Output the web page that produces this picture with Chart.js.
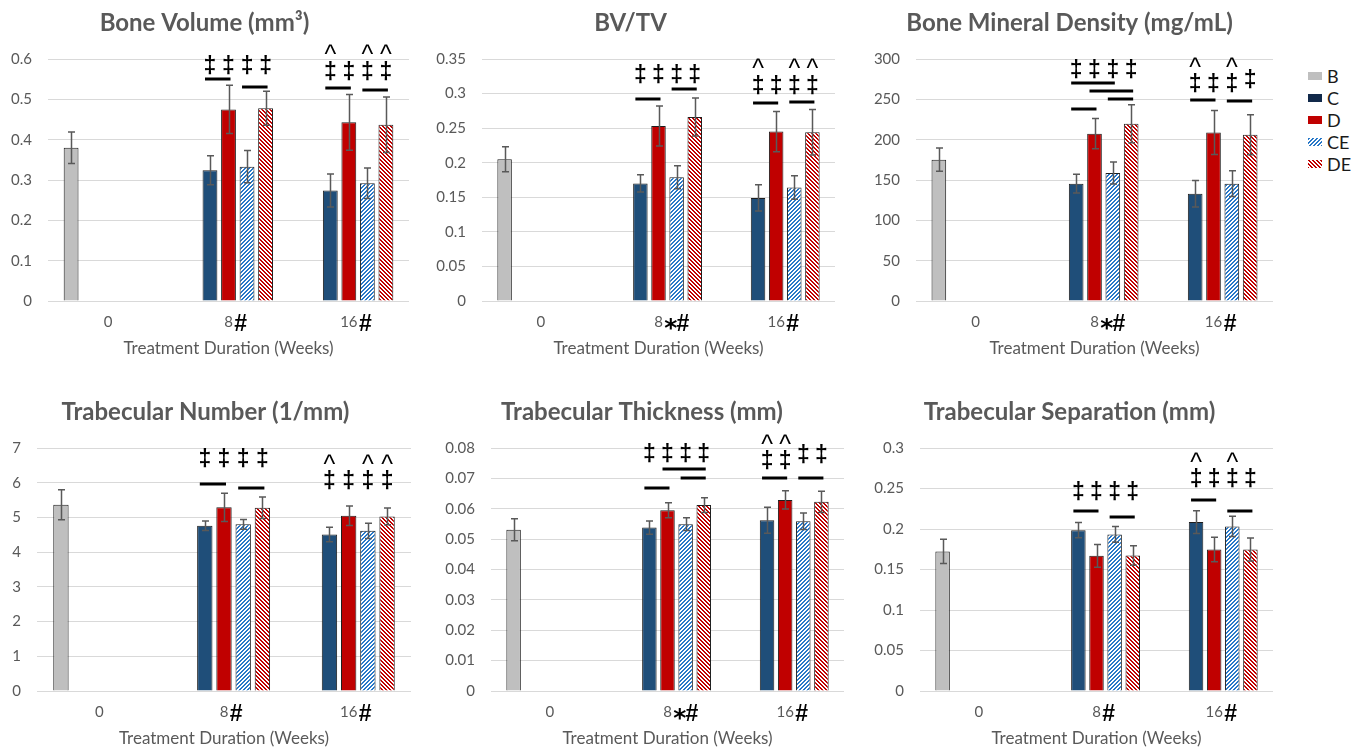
<!DOCTYPE html>
<html><head><meta charset="utf-8">
<script src="https://cdn.jsdelivr.net/npm/chart.js@4.4.1/dist/chart.umd.min.js"></script>
<style>
html,body{margin:0;padding:0;background:#fff;width:1369px;height:749px;overflow:hidden;position:relative}
.lg{position:absolute;left:1308px;height:22px;line-height:22px;font-family:Lato,sans-serif;font-size:18px;color:#1a1a1a;white-space:nowrap}
.lg canvas{position:absolute;left:0;top:7px}
.lg span{position:absolute;left:19px;top:0}
</style>
</head><body>
<script>
const FONT = 'Lato';
const categories = ['0', '8', '16'];
const seriesNames = ['B', 'C', 'D', 'CE', 'DE'];
const ALL = ['C', 'D', 'CE', 'DE'];

// ---- Bone Volume (mm³)
const bvB = [0.380, null, null],  bvB_err = [0.039, null, null];
const bvC = [null, 0.324, 0.274], bvC_err = [null, 0.036, 0.041];
const bvD = [null, 0.475, 0.443], bvD_err = [null, 0.060, 0.069];
const bvCE = [null, 0.333, 0.292], bvCE_err = [null, 0.040, 0.038];
const bvDE = [null, 0.478, 0.437], bvDE_err = [null, 0.042, 0.069];
const bvSuffix = ['', '#', '#'];
const bvDaggers = [[1, ALL, 0.583], [2, ALL, 0.566]];
const bvCarets = [[2, ['C', 'CE', 'DE'], 0.621]];
const bvLines = [[1, 'C', 'D', 0.550], [1, 'CE', 'DE', 0.531], [2, 'C', 'D', 0.527], [2, 'CE', 'DE', 0.524]];

// ---- BV/TV
const tvB = [0.205, null, null],  tvB_err = [0.018, null, null];
const tvC = [null, 0.170, 0.149], tvC_err = [null, 0.0125, 0.019];
const tvD = [null, 0.253, 0.245], tvD_err = [null, 0.029, 0.029];
const tvCE = [null, 0.179, 0.164], tvCE_err = [null, 0.0166, 0.017];
const tvDE = [null, 0.266, 0.244], tvDE_err = [null, 0.0275, 0.033];
const tvSuffix = ['', '*#', '#'];
const tvDaggers = [[1, ALL, 0.326], [2, ALL, 0.311]];
const tvCarets = [[2, ['C', 'CE', 'DE'], 0.343]];
const tvLines = [[1, 'C', 'D', 0.2926], [1, 'CE', 'DE', 0.3066], [2, 'C', 'D', 0.2868], [2, 'CE', 'DE', 0.2873]];

// ---- Bone Mineral Density (mg/mL)
const bmdB = [175.2, null, null],  bmdB_err = [14.5, null, null];
const bmdC = [null, 145.5, 133.0], bmdC_err = [null, 11.5, 16.5];
const bmdD = [null, 207.4, 209.0], bmdD_err = [null, 18.8, 27.3];
const bmdCE = [null, 158.7, 145.5], bmdCE_err = [null, 13.6, 16.0];
const bmdDE = [null, 219.8, 206.2], bmdDE_err = [null, 23.5, 24.8];
const bmdSuffix = ['', '*#', '#'];
const bmdDaggers = [[1, ALL, 286], [2, ['C', 'D', 'CE'], 269], [2, ['DE'], 274]];
const bmdCarets = [[2, ['C', 'CE'], 295]];
const bmdLines = [[1, 'C', 'CE', 269.8], [1, 'D', 'DE', 260.7], [1, 'CE', 'DE', 250.8], [1, 'C', 'D', 237.6], [2, 'C', 'D', 249], [2, 'CE', 'DE', 247.5]];

// ---- Trabecular Number (1/mm)
const tnB = [5.365, null, null], tnB_err = [0.43, null, null];
const tnC = [null, 4.76, 4.51],  tnC_err = [null, 0.14, 0.21];
const tnD = [null, 5.29, 5.05],  tnD_err = [null, 0.41, 0.28];
const tnCE = [null, 4.80, 4.615], tnCE_err = [null, 0.14, 0.22];
const tnDE = [null, 5.28, 5.03], tnDE_err = [null, 0.31, 0.24];
const tnSuffix = ['', '#', '#'];
const tnDaggers = [[1, ALL, 6.66], [2, ALL, 6.04]];
const tnCarets = [[2, ['C', 'CE', 'DE'], 6.66]];
const tnLines = [[1, 'C', 'D', 5.97], [1, 'CE', 'DE', 5.846]];

// ---- Trabecular Thickness (mm)
const ttB = [0.0531, null, null],   ttB_err = [0.0036, null, null];
const ttC = [null, 0.0538, 0.0562], ttC_err = [null, 0.0022, 0.0043];
const ttD = [null, 0.0595, 0.0629], ttD_err = [null, 0.0025, 0.0030];
const ttCE = [null, 0.0549, 0.0559], ttCE_err = [null, 0.0021, 0.0027];
const ttDE = [null, 0.0612, 0.0623], ttDE_err = [null, 0.0024, 0.0035];
const ttSuffix = ['', '*#', '#'];
const ttDaggers = [[1, ALL, 0.0780], [2, ['C', 'D'], 0.0756], [2, ['CE', 'DE'], 0.0775]];
const ttCarets = [[2, ['C', 'D'], 0.0825]];
const ttLines = [[1, 'D', 'DE', 0.0731], [1, 'CE', 'DE', 0.0702], [1, 'C', 'D', 0.0667], [2, 'C', 'D', 0.0701], [2, 'CE', 'DE', 0.0701]];

// ---- Trabecular Separation (mm)
const tsB = [0.1723, null, null],   tsB_err = [0.015, null, null];
const tsC = [null, 0.1986, 0.2085], tsC_err = [null, 0.0093, 0.014];
const tsD = [null, 0.1669, 0.1747], tsD_err = [null, 0.014, 0.015];
const tsCE = [null, 0.1933, 0.2032], tsCE_err = [null, 0.0097, 0.0124];
const tsDE = [null, 0.1673, 0.1747], tsDE_err = [null, 0.012, 0.0142];
const tsSuffix = ['', '#', '#'];
const tsDaggers = [[1, ALL, 0.245], [2, ALL, 0.2617]];
const tsCarets = [[2, ['C', 'CE'], 0.2876]];
const tsLines = [[1, 'C', 'D', 0.2217], [1, 'CE', 'DE', 0.2143], [2, 'C', 'D', 0.2353], [2, 'CE', 'DE', 0.2217]];

// ---------- styling ----------
function stripe(color, dir) {
  const c = document.createElement('canvas'); c.width = 4; c.height = 4;
  const x = c.getContext('2d');
  x.fillStyle = '#ffffff'; x.fillRect(0, 0, 4, 4);
  x.fillStyle = color;
  for (let i = 0; i < 4; i++) for (let j = 0; j < 4; j++) {
    const k = dir > 0 ? (i + j) % 4 : ((i - j) % 4 + 4) % 4;
    if (k < 2) x.fillRect(i, j, 1, 1);
  }
  return document.createElement('canvas').getContext('2d').createPattern(c, 'repeat');
}
const fills = ['#bfbfbf', '#1f4e79', '#c00000', stripe('#2878c8', 1), stripe('#c00000', -1)];

const errPlugin = {
  id: 'errbars',
  afterDatasetsDraw(chart) {
    const ctx = chart.ctx, ys = chart.scales.y;
    ctx.save();
    ctx.strokeStyle = '#595959'; ctx.lineWidth = 1.5;
    chart.data.datasets.forEach((ds, di) => {
      const meta = chart.getDatasetMeta(di);
      meta.data.forEach((el, i) => {
        const v = ds.data[i], e = ds.err[i];
        if (v == null || e == null) return;
        const x = Math.round(el.x) + 0.5;
        const t = ys.getPixelForValue(v + e), b = ys.getPixelForValue(v - e);
        ctx.beginPath();
        ctx.moveTo(x, t); ctx.lineTo(x, b);
        ctx.moveTo(x - 3.5, t); ctx.lineTo(x + 3.5, t);
        ctx.moveTo(x - 3.5, b); ctx.lineTo(x + 3.5, b);
        ctx.stroke();
      });
    });
    ctx.restore();
  }
};

function barX(chart, cat, name) {
  return chart.getDatasetMeta(seriesNames.indexOf(name)).data[cat].x;
}

const sigPlugin = {
  id: 'sig',
  afterDraw(chart, args, opts) {
    const ctx = chart.ctx, ys = chart.scales.y;
    ctx.save();
    ctx.fillStyle = '#000'; ctx.strokeStyle = '#000';
    ctx.textAlign = 'center'; ctx.textBaseline = 'alphabetic';
    ctx.font = 'bold 23px "Liberation Sans"';
    (opts.daggers || []).forEach(([cat, names, v]) => {
      names.forEach(n => ctx.fillText('‡', barX(chart, cat, n), ys.getPixelForValue(v) + 0.29 * 23));
    });
    ctx.font = '25px "Liberation Sans"';
    (opts.carets || []).forEach(([cat, names, v]) => {
      names.forEach(n => ctx.fillText('^', barX(chart, cat, n), ys.getPixelForValue(v) + 0.51 * 25));
    });
    ctx.lineWidth = 3;
    (opts.lines || []).forEach(([cat, a, b, v]) => {
      const y = Math.round(ys.getPixelForValue(v));
      ctx.beginPath();
      ctx.moveTo(barX(chart, cat, a) - 5, y); ctx.lineTo(barX(chart, cat, b) + 2, y);
      ctx.stroke();
    });
    ctx.restore();
  }
};

const suffixPlugin = {
  id: 'xsuffix',
  afterDraw(chart, args, opts) {
    const ctx = chart.ctx, xs = chart.scales.x;
    const yc = xs.top + 12 + 9;
    ctx.save();
    ctx.textBaseline = 'alphabetic'; ctx.textAlign = 'left'; ctx.fillStyle = '#000';
    categories.forEach((c, i) => {
      const suf = opts.suffix[i];
      if (!suf) return;
      ctx.font = '15px ' + FONT;
      let x = xs.getPixelForTick(i) + ctx.measureText(c).width / 2 + 1.5;
      for (const ch of suf) {
        if (ch === '*') {
          ctx.font = 'bold 25px "DejaVu Sans"';
          ctx.fillText('*', x, yc + 0.56 * 25);
        } else {
          ctx.font = 'bold 23px "Liberation Sans"';
          ctx.fillText(ch, x, yc + 0.36 * 23 + 1);
        }
        x += ctx.measureText(ch).width - 1;
      }
    });
    ctx.restore();
  }
};

function makeChart(p) {
  const canvas = document.createElement('canvas');
  canvas.width = p.width; canvas.height = p.height;
  canvas.style.cssText = `position:absolute;left:${p.left}px;top:${p.top}px;width:${p.width}px;height:${p.height}px`;
  document.body.appendChild(canvas);
  const datasets = seriesNames.map((name, k) => ({
    label: name, data: p.values[k], err: p.errors[k],
    backgroundColor: fills[k], borderColor: '#1e1e1e', borderWidth: 1,
    categoryPercentage: 0.77, barPercentage: 0.8
  }));
  new Chart(canvas, {
    type: 'bar',
    data: { labels: categories, datasets },
    options: {
      responsive: false, animation: false, devicePixelRatio: 1,
      layout: { padding: { left: 0, right: p.rightPad, top: 0, bottom: 0 } },
      plugins: {
        legend: { display: false }, tooltip: { enabled: false },
        title: { display: true, text: p.title, color: '#595959',
          font: { family: FONT, size: 24, weight: 'bold' },
          padding: { top: p.titleTop - 1, bottom: 21.2 } },
        sig: { daggers: p.daggers, carets: p.carets, lines: p.lines },
        xsuffix: { suffix: p.suffix }
      },
      scales: {
        x: {
          grid: { display: false, drawTicks: false }, border: { display: false },
          ticks: { color: '#595959', font: { family: FONT, size: 15 }, padding: 12 },
          title: { display: true, text: 'Treatment Duration (Weeks)', color: '#595959',
            font: { family: FONT, size: 17 }, padding: { top: 0, bottom: 0 } },
          afterFit: s => { s.height = 58; }
        },
        y: {
          min: 0, max: p.yMax,
          ticks: { stepSize: p.yStep, color: '#595959', font: { family: FONT, size: 15 }, padding: 16,
            callback: v => String(+v.toFixed(4)) },
          grid: { color: '#d9d9d9', lineWidth: 1, drawTicks: false },
          border: { display: false },
          afterFit: s => { s.width = p.yWidth; }
        }
      }
    },
    plugins: [errPlugin, sigPlugin, suffixPlugin]
  });
}

makeChart({ left: 0, top: 0, width: 414, height: 359, yWidth: 48, rightPad: 5, titleTop: 10,
  title: 'Bone Volume (mm³)', yMax: 0.6, yStep: 0.1,
  values: [bvB, bvC, bvD, bvCE, bvDE], errors: [bvB_err, bvC_err, bvD_err, bvCE_err, bvDE_err],
  suffix: bvSuffix, daggers: bvDaggers, carets: bvCarets, lines: bvLines });
makeChart({ left: 426, top: 0, width: 429, height: 359, yWidth: 56, rightPad: 20, titleTop: 10,
  title: 'BV/TV', yMax: 0.35, yStep: 0.05,
  values: [tvB, tvC, tvD, tvCE, tvDE], errors: [tvB_err, tvC_err, tvD_err, tvCE_err, tvDE_err],
  suffix: tvSuffix, daggers: tvDaggers, carets: tvCarets, lines: tvLines });
makeChart({ left: 866, top: 0, width: 425, height: 359, yWidth: 50, rightPad: 18, titleTop: 10,
  title: 'Bone Mineral Density (mg/mL)', yMax: 300, yStep: 50,
  values: [bmdB, bmdC, bmdD, bmdCE, bmdDE], errors: [bmdB_err, bmdC_err, bmdD_err, bmdCE_err, bmdDE_err],
  suffix: bmdSuffix, daggers: bmdDaggers, carets: bmdCarets, lines: bmdLines });
makeChart({ left: 0, top: 380, width: 433, height: 369, yWidth: 37, rightPad: 22, titleTop: 19,
  title: 'Trabecular Number (1/mm)', yMax: 7, yStep: 1,
  values: [tnB, tnC, tnD, tnCE, tnDE], errors: [tnB_err, tnC_err, tnD_err, tnCE_err, tnDE_err],
  suffix: tnSuffix, daggers: tnDaggers, carets: tnCarets, lines: tnLines });
makeChart({ left: 440, top: 380, width: 419, height: 369, yWidth: 51, rightPad: 15, titleTop: 19,
  title: 'Trabecular Thickness (mm)', yMax: 0.08, yStep: 0.01,
  values: [ttB, ttC, ttD, ttCE, ttDE], errors: [ttB_err, ttC_err, ttD_err, ttCE_err, ttDE_err],
  suffix: ttSuffix, daggers: ttDaggers, carets: ttCarets, lines: ttLines });
makeChart({ left: 866, top: 380, width: 425, height: 369, yWidth: 54, rightPad: 18, titleTop: 19,
  title: 'Trabecular Separation (mm)', yMax: 0.3, yStep: 0.05,
  values: [tsB, tsC, tsD, tsCE, tsDE], errors: [tsB_err, tsC_err, tsD_err, tsCE_err, tsDE_err],
  suffix: tsSuffix, daggers: tsDaggers, carets: tsCarets, lines: tsLines });

// ---------- legend ----------
const legendBoxFill = ['#bfbfbf', '#11294a', '#c00000', fills[3], fills[4]];
seriesNames.forEach((name, k) => {
  const row = document.createElement('div');
  row.className = 'lg';
  row.style.top = (64.7 + k * 22.1) + 'px';
  const box = document.createElement('canvas');
  box.width = 14; box.height = 8;
  const bx = box.getContext('2d');
  bx.fillStyle = legendBoxFill[k]; bx.fillRect(0, 0, 14, 8);
  const txt = document.createElement('span');
  txt.textContent = name;
  row.appendChild(box); row.appendChild(txt);
  document.body.appendChild(row);
});
</script>
</body></html>
